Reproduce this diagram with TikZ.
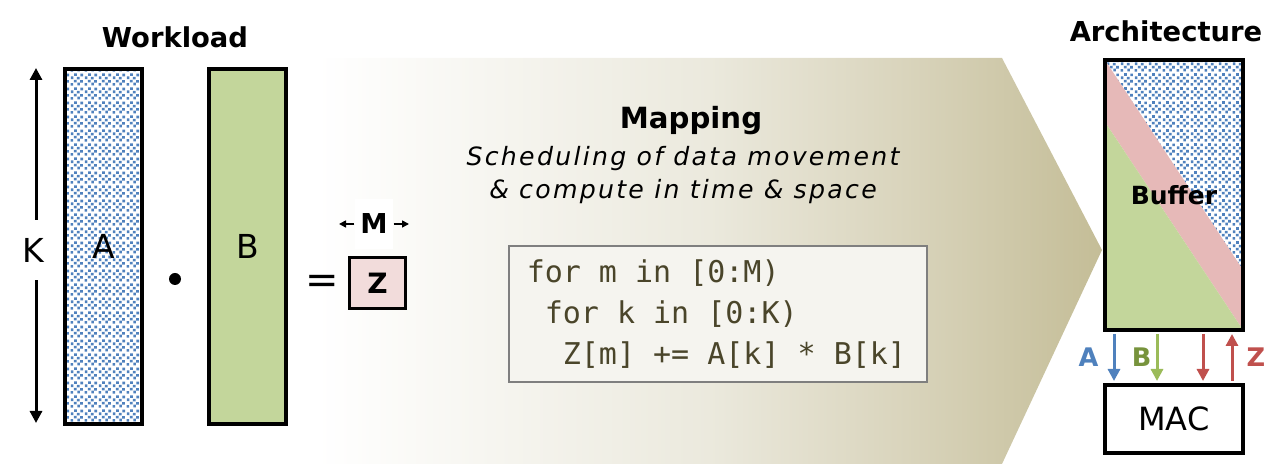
\documentclass[tikz,border=0pt]{standalone}
\usepackage{fontspec}
\setmainfont{DejaVu Sans}
\setmonofont{DejaVu Sans Mono}
\newfontfamily\mapfont[LetterSpace=9]{DejaVu Sans}
\usepackage{tikz}
\usetikzlibrary{arrows.meta, positioning, patterns}
\usepackage{xcolor}

\definecolor{dotblue}{HTML}{4F81BD}
\definecolor{matgreen}{HTML}{C3D69B}
\definecolor{arrgreen}{HTML}{9BBB59}
\definecolor{lblgreen}{HTML}{77933C}
\definecolor{zpink}{HTML}{F2DCDB}
\definecolor{bandpink}{HTML}{E6B9B8}
\definecolor{zred}{HTML}{C0504D}
\definecolor{maptan}{HTML}{C4BD97}
\definecolor{mapq1}{HTML}{F5F4EE}
\definecolor{mapq2}{HTML}{EBE9DD}
\definecolor{mapq3}{HTML}{D9D4BC}
\definecolor{codefill}{HTML}{F5F4EF}
\definecolor{codetext}{HTML}{4A452A}
\definecolor{codeline}{HTML}{7F7F7F}

% fade of the mapping banner
\pgfdeclarehorizontalshading{mapfade}{100bp}{color(0bp)=(white); color(25bp)=(white);
  color(37.5bp)=(mapq1); color(50bp)=(mapq2); color(62.5bp)=(mapq3);
  color(75bp)=(maptan); color(100bp)=(maptan)}

% small confetti squares (operand A)
\pgfdeclarepatternformonly{confetti}{\pgfqpoint{0pt}{0pt}}{\pgfqpoint{7pt}{7pt}}{\pgfqpoint{7pt}{7pt}}{%
  \pgfpathrectangle{\pgfqpoint{0.3pt}{0.2pt}}{\pgfqpoint{1.4pt}{1.4pt}}
  \pgfpathrectangle{\pgfqpoint{3.9pt}{0.4pt}}{\pgfqpoint{1.4pt}{1.4pt}}
  \pgfpathrectangle{\pgfqpoint{2.1pt}{1.9pt}}{\pgfqpoint{1.4pt}{1.4pt}}
  \pgfpathrectangle{\pgfqpoint{5.4pt}{1.8pt}}{\pgfqpoint{1.4pt}{1.4pt}}
  \pgfpathrectangle{\pgfqpoint{0.4pt}{3.7pt}}{\pgfqpoint{1.4pt}{1.4pt}}
  \pgfpathrectangle{\pgfqpoint{3.7pt}{3.5pt}}{\pgfqpoint{1.4pt}{1.4pt}}
  \pgfpathrectangle{\pgfqpoint{2.2pt}{5.4pt}}{\pgfqpoint{1.4pt}{1.4pt}}
  \pgfpathrectangle{\pgfqpoint{5.5pt}{5.2pt}}{\pgfqpoint{1.4pt}{1.4pt}}
  \pgfusepath{fill}
}

% one monospaced column
\newcommand{\codesp}{\hphantom{0}}

\begin{document}
\begin{tikzpicture}[
    x=0.5pt, y=-0.5pt,
    mat/.style={
        rectangle,
        draw,
        line width=2pt,
        minimum width=38.5pt,
        minimum height=177.5pt,
        inner sep=0pt,
        font=\fontsize{16.5}{20}\selectfont
    },
    heading/.style={font=\bfseries\fontsize{13.7}{16}\selectfont},
    hw/.style={
        rectangle,
        draw,
        line width=2pt,
        minimum width=69pt,
        inner sep=0pt
    },
    codebox/.style={
        rectangle,
        draw=codeline,
        line width=0.75pt,
        fill=codefill,
        anchor=west,
        text width=191pt,
        inner xsep=9pt,
        minimum height=68pt,
        align=left,
        text=codetext,
        font=\ttfamily\fontsize{15}{20.5}\selectfont
    },
    dimarrow/.style={-{Triangle[width=6pt,length=6pt]}, line width=1.5pt},
    flow/.style={-{Triangle[width=6pt,length=6pt]}, line width=1.5pt, shorten >=1pt, shorten <=1pt},
    flowlbl/.style={font=\bfseries\fontsize{12.8}{14}\selectfont, inner sep=1pt}
]
\useasboundingbox (0,0) rectangle (1287,464);

% Mapping banner (background)
\shade[shading=mapfade] (317,58) -- (1002,58) -- (1102,250) -- (1002,464) -- (317,464) -- cycle;

% Workload
\node[heading] (wl) at (175,37.6) {Workload};
\node[mat, preaction={fill=white}, pattern=confetti, pattern color=dotblue] (matA) at (103.5,246.5) {A};
\node[mat, fill=matgreen] (matB) at (247.5,246.5) {B};
\node[circle, fill, inner sep=0pt, minimum size=6pt] (dotop) at (175,279) {};
\node[font=\fontsize{20}{24}\selectfont] (eq) at (322,284) {=};
\node[draw, line width=1.5pt, fill=zpink, minimum width=28pt, minimum height=25.5pt,
      font=\bfseries\fontsize{14}{16}\selectfont] (zmat) at (377.5,283) {Z};

% dimensions
\node[font=\fontsize{16.5}{20}\selectfont, inner ysep=9pt] (klbl) at (33,250) {K};
\coordinate (ktop) at (36,68);
\coordinate (kbot) at (36,423);
\node[fill=white, inner xsep=2.8pt, inner ysep=7.5pt, font=\bfseries\fontsize{13.7}{16}\selectfont] (mdim) at (374,224) {M};
\coordinate (mleft) at (339,224);
\coordinate (mright) at (409,224);

\draw[dimarrow] (klbl.north -| ktop) -- (ktop);
\draw[dimarrow] (klbl.south -| kbot) -- (kbot);
\draw[-{Triangle[width=3.5pt,length=3.5pt]}, line width=0.8pt] (mdim.west) -- (mleft);
\draw[-{Triangle[width=3.5pt,length=3.5pt]}, line width=0.8pt] (mdim.east) -- (mright);

% Mapping
\node[font=\bfseries\fontsize{14.6}{17}\selectfont] (maptitle) at (691,120.5) {Mapping};
\node[font=\mapfont\itshape\fontsize{12.6}{16.5}\selectfont, align=center] (mapsub) at (683,175.3)
{Scheduling of data movement\\
\& compute in time \& space};

\node[codebox] (code) at (508,314) {for\codesp m\codesp in\codesp [0:M)\\
\codesp for\codesp k\codesp in\codesp [0:K)\\
\codesp\codesp Z[m]\codesp +=\codesp A[k]\codesp *\codesp B[k]};

% Architecture
\node[heading] (arch) at (1166,31.6) {Architecture};
\fill[white] (1105,60) -- (1243,60) -- (1243,270) -- cycle;
\fill[pattern=confetti, pattern color=dotblue] (1105,60) -- (1243,60) -- (1243,270) -- cycle;
\fill[bandpink] (1105,60) -- (1243,270) -- (1243,330) -- (1105,122) -- cycle;
\fill[matgreen] (1105,122) -- (1243,330) -- (1105,330) -- cycle;
\node[hw, minimum height=135pt, font=\bfseries\fontsize{12.5}{15}\selectfont] (buf) at (1174,195) {Buffer};
\node[hw, minimum height=34pt, font=\fontsize{16}{19}\selectfont] (mac) at (1174,419) {MAC};

% operand traffic
\draw[flow, dotblue] ([xshift=5.5pt]buf.south west) -- ([xshift=5.5pt]mac.north west)
    node[midway, left=6pt, flowlbl, text=dotblue] {A};
\draw[flow, arrgreen] ([xshift=27pt]buf.south west) -- ([xshift=27pt]mac.north west)
    node[midway, left=1pt, flowlbl, text=lblgreen] {B};
\draw[flow, zred] ([xshift=50pt]buf.south west) -- ([xshift=50pt]mac.north west);
\draw[flow, zred] ([xshift=64.5pt]mac.north west) -- ([xshift=64.5pt]buf.south west)
    node[midway, right=5.5pt, flowlbl, text=zred] {Z};

\end{tikzpicture}
\end{document}
